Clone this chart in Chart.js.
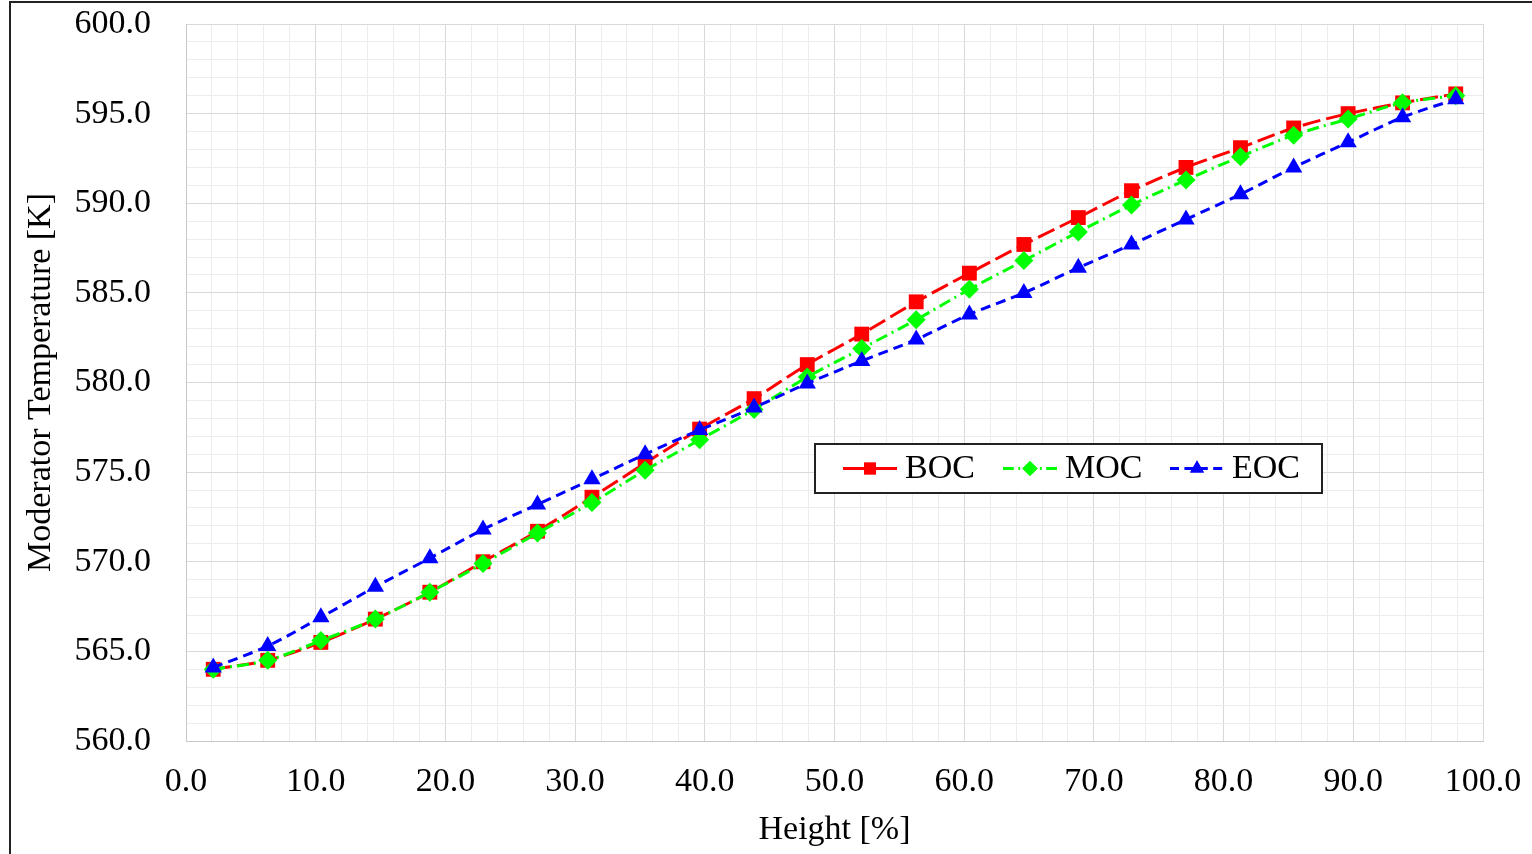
<!DOCTYPE html>
<html>
<head>
<meta charset="utf-8">
<script src="https://cdn.jsdelivr.net/npm/chart.js@4/dist/chart.umd.min.js"></script>
<style>
  html, body { margin: 0; padding: 0; background: #fff; }
  #wrap { width: 1532px; height: 854px; }
</style>
</head>
<body>
<div id="wrap"><canvas id="c" width="1532" height="854"></canvas></div>
<script>
// ---- data ----
const heights = [2.1, 6.3, 10.4, 14.6, 18.8, 22.9, 27.1, 31.3, 35.4, 39.6, 43.8, 47.9,
                 52.1, 56.3, 60.4, 64.6, 68.8, 72.9, 77.1, 81.3, 85.4, 89.6, 93.8, 97.9];
const boc = [564.0, 564.5, 565.5, 566.8, 568.3, 570.0, 571.7, 573.6, 575.5, 577.4, 579.1, 581.0,
             582.7, 584.5, 586.1, 587.7, 589.2, 590.7, 592.0, 593.1, 594.2, 595.0, 595.6, 596.1];
const moc = [564.0, 564.5, 565.6, 566.8, 568.3, 569.9, 571.6, 573.3, 575.1, 576.8, 578.5, 580.3,
             581.9, 583.5, 585.2, 586.8, 588.4, 589.9, 591.3, 592.6, 593.8, 594.7, 595.6, 596.0];
const eoc = [564.1, 565.3, 566.9, 568.6, 570.2, 571.8, 573.2, 574.6, 576.0, 577.35, 578.6, 579.95,
             581.2, 582.4, 583.8, 585.0, 586.4, 587.7, 589.1, 590.5, 592.0, 593.4, 594.8, 595.8];
const seriesNames = ['BOC', 'MOC', 'EOC'];
const xTitle = 'Height [%]';
const yTitle = 'Moderator Temperature [K]';
const xMin = 0, xMax = 100, xMajor = 10, xMinor = 2;
const yMin = 560, yMax = 600, yMajor = 5, yMinor = 1;

const FONT = '"Liberation Serif", "Times New Roman", serif';
const toXY = (vals) => vals.map((v, i) => ({ x: heights[i], y: v }));
const isMajor = (v, step) => Math.abs(v / step - Math.round(v / step)) < 1e-6;

const styles = [
  { color: '#ff0000', dash: [18, 6], point: 'rect', radius: 10.5 },
  { color: '#00ff00', dash: [12, 5, 2, 5], point: 'rectRot', radius: 9.5 },
  { color: '#0000ff', dash: [10, 6], point: 'triangle', radius: 10 }
];
const seriesData = [boc, moc, eoc];

const datasets = seriesData.map((vals, i) => ({
  label: seriesNames[i],
  data: toXY(vals),
  borderColor: styles[i].color,
  backgroundColor: styles[i].color,
  borderWidth: 3,
  borderDash: styles[i].dash,
  pointStyle: styles[i].point,
  pointRadius: styles[i].radius,
  pointBorderWidth: 0,
  pointBackgroundColor: styles[i].color,
  tension: 0.3,
  order: 2 - i
}));

const frame = {
  id: 'frame',
  beforeDraw(chart) {
    const ctx = chart.ctx;
    ctx.save();
    ctx.fillStyle = '#fff';
    ctx.fillRect(0, 0, chart.width, chart.height);
    ctx.restore();
  },
  afterDraw(chart) {
    const ctx = chart.ctx;
    ctx.save();
    ctx.strokeStyle = '#222';
    ctx.lineWidth = 2;
    ctx.strokeRect(10, 2, 2000, 2000);
    ctx.restore();
  }
};

const legendBox = {
  id: 'legendBox',
  afterDatasetsDraw(chart) {
    const ctx = chart.ctx;
    const bx = 815, by = 444, bw = 507, bh = 49;
    ctx.save();
    ctx.fillStyle = '#fff';
    ctx.fillRect(bx, by, bw, bh);
    ctx.strokeStyle = '#222';
    ctx.lineWidth = 2;
    ctx.strokeRect(bx, by, bw, bh);
    const cy = by + bh / 2;
    const itemX = [843, 1003, 1170];
    ctx.font = '34px ' + FONT;
    ctx.textBaseline = 'middle';
    ctx.textAlign = 'left';
    chart.data.datasets.forEach((ds, i) => {
      const x0 = itemX[i], x1 = x0 + 54;
      ctx.strokeStyle = ds.borderColor;
      ctx.lineWidth = 3;
      ctx.setLineDash(i === 0 ? [] : ds.borderDash.map(d => d * 0.9));
      ctx.beginPath();
      ctx.moveTo(x0, cy);
      ctx.lineTo(x1, cy);
      ctx.stroke();
      ctx.setLineDash([]);
      ctx.fillStyle = ds.backgroundColor;
      Chart.helpers.drawPoint(ctx, {
        pointStyle: ds.pointStyle,
        radius: ds.pointRadius * 0.8,
        borderWidth: 0,
        rotation: 0
      }, (x0 + x1) / 2, cy);
      ctx.fill();
      ctx.fillStyle = '#000';
      ctx.fillText(ds.label, x1 + 8, cy + 1);
    });
    ctx.restore();
  }
};

new Chart(document.getElementById('c'), {
  type: 'line',
  data: { datasets },
  options: {
    responsive: false,
    animation: false,
    layout: { padding: { left: 0, right: 49, top: 24, bottom: 0 } },
    plugins: { legend: { display: false }, tooltip: { enabled: false } },
    scales: {
      x: {
        type: 'linear',
        min: xMin, max: xMax,
        afterFit(s) { s.height = 113; s.paddingLeft = 0; s.paddingRight = 0; },
        border: { color: '#c8c8c8', width: 1 },
        grid: {
          drawTicks: false,
          color: (c) => isMajor(c.tick.value, xMajor) ? '#d9d9d9' : '#ececec',
          lineWidth: 1
        },
        ticks: {
          stepSize: xMinor,
          autoSkip: false,
          maxRotation: 0,
          padding: 21,
          color: '#000',
          font: { family: FONT, size: 34 },
          callback: (v) => isMajor(v, xMajor) ? Number(v).toFixed(1) : ''
        },
        title: {
          display: true,
          text: xTitle,
          color: '#000',
          font: { family: FONT, size: 34 },
          padding: { top: 0, bottom: 4 }
        }
      },
      y: {
        type: 'linear',
        min: yMin, max: yMax,
        afterFit(s) { s.width = 186; s.paddingTop = 0; s.paddingBottom = 0; },
        border: { color: '#c8c8c8', width: 1 },
        grid: {
          drawTicks: false,
          color: (c) => isMajor(c.tick.value, yMajor) ? '#d9d9d9' : '#ececec',
          lineWidth: 1
        },
        ticks: {
          stepSize: yMinor,
          autoSkip: false,
          padding: 35,
          color: '#000',
          font: { family: FONT, size: 34 },
          callback: (v) => isMajor(v, yMajor) ? Number(v).toFixed(1) : ''
        },
        title: {
          display: true,
          text: yTitle,
          color: '#000',
          font: { family: FONT, size: 34 },
          padding: { top: 21, bottom: 0 }
        }
      }
    }
  },
  plugins: [frame, legendBox]
});
</script>
</body>
</html>
